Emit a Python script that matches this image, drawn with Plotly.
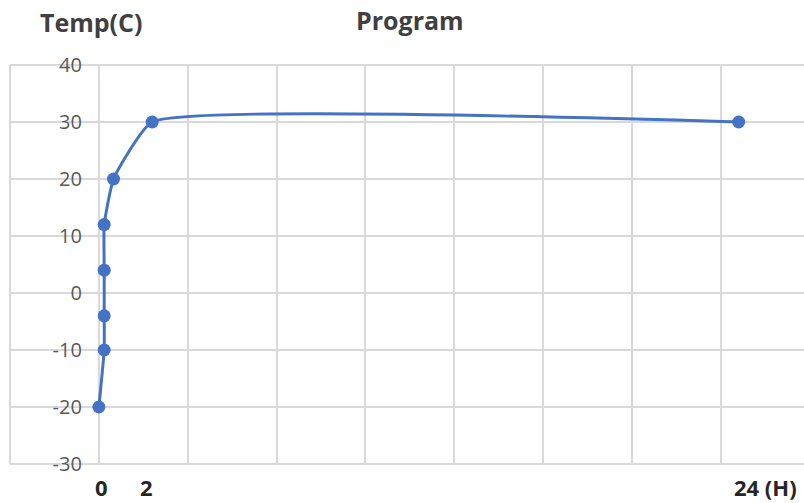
import plotly.graph_objects as go

# Temperature program: time (hours) vs temperature (°C)
hours = [0, 0.2, 0.2, 0.2, 0.2, 0.55, 2, 24]
temp = [-20, -10, -4, 4, 12, 20, 30, 30]

y_ticks = [40, 30, 20, 10, 0, -10, -20, -30]
y_tick_text = ["40", "30", "20", "10", "0", "-10", "-20", "-30"]
x_labels = [(0, "0", 3), (2, "2", -6), (24, "24 (H)", 27)]

GRID = "#d9d9d9"
LINE = "#4472c4"

# plot area in pixels (for placing the header texts)
W, H = 804, 503
L, R, T, B = 10, 0, 65, 39
PW, PH = W - L - R, H - T - B

X_MIN, X_MAX = -10 / 3, 26.45

fig = go.Figure()
fig.add_trace(go.Scatter(
    x=hours, y=temp,
    mode="lines+markers",
    line=dict(color=LINE, width=3, shape="spline", smoothing=0.4),
    marker=dict(color=LINE, size=13),
    hoverinfo="x+y",
    showlegend=False,
))

fig.update_layout(
    width=W, height=H,
    margin=dict(l=L, r=R, t=T, b=B),
    paper_bgcolor="white", plot_bgcolor="white",
    font=dict(family="Open Sans", color="#595959"),
    xaxis=dict(
        range=[X_MIN, X_MAX], tick0=0, dtick=10 / 3,
        showgrid=True, gridcolor=GRID, gridwidth=2,
        showticklabels=False, zeroline=False, showline=False,
        domain=[0, 1],
    ),
    yaxis=dict(
        range=[-30, 40], tickvals=y_ticks, ticktext=y_tick_text,
        showgrid=True, gridcolor=GRID, gridwidth=2,
        zeroline=False, showline=False,
        anchor="free", position=(0 - X_MIN) / (X_MAX - X_MIN),
        ticklabelstandoff=17,
        tickfont=dict(size=20, color="#595959"),
    ),
)

# Border lines of the plot area (left, top, bottom)
for sx0, sx1, sy0, sy1 in [(0, 0, 0, 1), (0, 1, 1, 1), (0, 1, 0, 0)]:
    fig.add_shape(type="line", xref="paper", yref="paper",
                  x0=sx0, x1=sx1, y0=sy0, y1=sy1,
                  line=dict(color=GRID, width=2), layer="below")

for xv, txt, dx in x_labels:
    fig.add_annotation(
        x=xv, y=-(487 - (H - B)) / PH, xref="x", yref="paper",
        xanchor="center", yanchor="middle", xshift=dx,
        text=f"<b>{txt}</b>", showarrow=False,
        font=dict(family="Open Sans", size=22, color="#262626"),
    )

for px, py, txt in [(91, 22, "Temp(C)"), (410, 20, "Program")]:
    fig.add_annotation(
        x=(px - L) / PW, y=((H - B) - py) / PH, xref="paper", yref="paper",
        xanchor="center", yanchor="middle",
        text=f"<b>{txt}</b>", showarrow=False,
        font=dict(family="Open Sans", size=25, color="#404040"),
    )

fig.write_html("out.html")
